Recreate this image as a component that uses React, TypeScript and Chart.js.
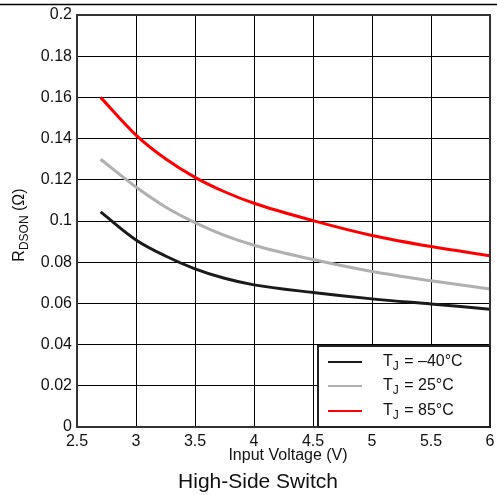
import React, { useEffect, useRef } from "react";
import { Chart, registerables } from "chart.js";

Chart.register(...registerables);

const voltages = [2.7, 3, 3.25, 3.5, 3.75, 4, 4.5, 5, 5.5, 6];
const rdsonMinus40 = [0.1044, 0.0908, 0.083, 0.0768, 0.0722, 0.069, 0.0653, 0.0622, 0.0597, 0.0572];
const rdson25 = [0.13, 0.1165, 0.1068, 0.0992, 0.093, 0.0882, 0.0813, 0.0755, 0.071, 0.067];
const rdson85 = [0.16, 0.1417, 0.1302, 0.1212, 0.1142, 0.1086, 0.1002, 0.093, 0.0876, 0.0831];

const seriesLabels = ["= \u201340\u00b0C", "= 25\u00b0C", "= 85\u00b0C"];
const seriesColors = ["#1a1a1a", "#b0b0b0", "#ff0000"];
const xTitle = "Input Voltage (V)";
const chartTitle = "High-Side Switch";
const yMin = 0, yMax = 0.2, yStep = 0.02;
const xMin = 2.5, xMax = 6, xStep = 0.5;

const FONT = "'Liberation Sans', Arial, sans-serif";

const decorPlugin = {
  id: "decor",
  afterDraw(chart: any) {
    const ctx = chart.ctx;
    const a = chart.chartArea;
    ctx.save();
    // top page line
    ctx.strokeStyle = "#000";
    ctx.lineWidth = 1.5;
    ctx.beginPath();
    ctx.moveTo(0, 4.5);
    ctx.lineTo(chart.width, 4.5);
    ctx.stroke();
    // frame
    ctx.strokeStyle = "#333";
    ctx.lineWidth = 2;
    ctx.strokeRect(a.left, a.top, a.right - a.left, a.bottom - a.top);

    // legend box
    const bx = 318, by = 346, bw = a.right - 318, bh = a.bottom - 346;
    ctx.fillStyle = "#fff";
    ctx.fillRect(bx, by, bw, bh);
    ctx.strokeStyle = "#222";
    ctx.lineWidth = 2;
    ctx.strokeRect(bx, by, bw, bh);
    const rows = [362, 386, 411];
    chart.data.datasets.forEach((ds: any, i: number) => {
      const y = rows[i];
      ctx.strokeStyle = ds.borderColor;
      ctx.lineWidth = 2;
      ctx.beginPath();
      ctx.moveTo(328, y);
      ctx.lineTo(362, y);
      ctx.stroke();
      ctx.fillStyle = "#111";
      ctx.textBaseline = "middle";
      ctx.textAlign = "left";
      ctx.font = `16px ${FONT}`;
      ctx.fillText("T", 383, y);
      const tw = ctx.measureText("T").width;
      ctx.font = `12px ${FONT}`;
      ctx.fillText("J", 383 + tw, y + 5);
      const jw = ctx.measureText("J").width;
      ctx.font = `16px ${FONT}`;
      ctx.fillText(" " + seriesLabels[i], 383 + tw + jw + 1, y);
    });

    // x title
    ctx.fillStyle = "#111";
    ctx.textAlign = "center";
    ctx.textBaseline = "middle";
    ctx.font = `16px ${FONT}`;
    ctx.fillText(xTitle, 288, 456);
    // chart title
    ctx.font = `21px ${FONT}`;
    ctx.fillText(chartTitle, 258, 482);

    // y title with subscript
    ctx.translate(20, 225);
    ctx.rotate(-Math.PI / 2);
    ctx.textAlign = "left";
    ctx.font = `16px ${FONT}`;
    const p1 = "R";
    const sub = "DSON";
    const p2 = " (\u03a9)";
    const w1 = ctx.measureText(p1).width;
    const w3 = ctx.measureText(p2).width;
    ctx.font = `12px ${FONT}`;
    const w2 = ctx.measureText(sub).width;
    const total = w1 + w2 + w3;
    const x0 = -total / 2;
    ctx.font = `16px ${FONT}`;
    ctx.fillText(p1, x0, 0);
    ctx.font = `12px ${FONT}`;
    ctx.fillText(sub, x0 + w1, 5);
    ctx.font = `16px ${FONT}`;
    ctx.fillText(p2, x0 + w1 + w2, 0);
    ctx.restore();
  },
};

export default function App() {
  const ref = useRef<HTMLCanvasElement>(null);
  useEffect(() => {
    const mk = (vals: number[]) => voltages.map((v, i) => ({ x: v, y: vals[i] }));
    const chart = new Chart(ref.current as HTMLCanvasElement, {
      type: "line",
      data: {
        datasets: [
          { label: "TJ = -40°C", data: mk(rdsonMinus40), borderColor: seriesColors[0], borderWidth: 3, pointRadius: 0, cubicInterpolationMode: "monotone", fill: false },
          { label: "TJ = 25°C", data: mk(rdson25), borderColor: seriesColors[1], borderWidth: 3, pointRadius: 0, cubicInterpolationMode: "monotone", fill: false },
          { label: "TJ = 85°C", data: mk(rdson85), borderColor: seriesColors[2], borderWidth: 3, pointRadius: 0, cubicInterpolationMode: "monotone", fill: false },
        ],
      },
      options: {
        responsive: false,
        animation: false,
        devicePixelRatio: 1,
        layout: { padding: { top: 15, right: 7, left: 0, bottom: 0 } },
        plugins: { legend: { display: false }, tooltip: { enabled: false }, title: { display: false } },
        scales: {
          x: {
            type: "linear",
            min: xMin,
            max: xMax,
            afterFit: (s: any) => { s.height = 68; s.paddingLeft = 0; s.paddingRight = 0; },
            ticks: {
              stepSize: xStep,
              color: "#111",
              font: { family: FONT, size: 16 },
              padding: 5,
              maxRotation: 0,
              callback: (v: any) => String(Number(Number(v).toFixed(1))),
            },
            grid: { color: "#000", lineWidth: 1, drawTicks: false },
            border: { display: false },
          },
          y: {
            min: yMin,
            max: yMax,
            afterFit: (s: any) => { s.width = 77; s.paddingTop = 0; s.paddingBottom = 0; },
            ticks: {
              stepSize: yStep,
              color: "#111",
              font: { family: FONT, size: 16 },
              padding: 5,
              callback: (v: any) => String(Number(Number(v).toFixed(2))),
            },
            grid: { color: "#000", lineWidth: 1, drawTicks: false },
            border: { display: false },
          },
        },
      },
      plugins: [decorPlugin],
    } as any);
    return () => chart.destroy();
  }, []);
  return (
    <div style={{ position: "fixed", left: 0, top: 0, width: 497, height: 495, background: "#fff" }}>
      <canvas ref={ref} width={497} height={495} style={{ display: "block", width: 497, height: 495 }} />
    </div>
  );
}
